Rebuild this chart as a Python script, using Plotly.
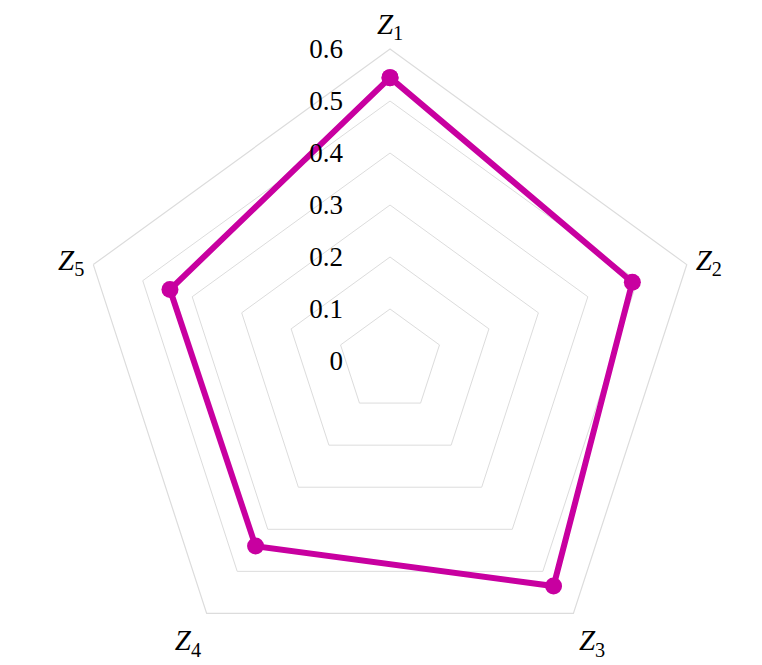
import plotly.graph_objects as go

categories = ["<i>Z</i><sub>1</sub>", "<i>Z</i><sub>2</sub>", "<i>Z</i><sub>3</sub>",
              "<i>Z</i><sub>4</sub>", "<i>Z</i><sub>5</sub>"]
values = [0.545, 0.49, 0.535, 0.44, 0.445]
radial_ticks = [0, 0.1, 0.2, 0.3, 0.4, 0.5, 0.6]
radial_labels = ["0", "0.1", "0.2", "0.3", "0.4", "0.5", "0.6"]

line_color = "#c800a0"
grid_color = "#dcdcdc"
font_family = "Liberation Serif"

fig = go.Figure()
fig.add_trace(go.Scatterpolar(
    r=values + values[:1],
    theta=categories + categories[:1],
    mode="lines+markers",
    line=dict(color=line_color, width=6),
    marker=dict(color=line_color, size=17),
    showlegend=False,
))

fig.update_layout(
    width=762, height=665,
    margin=dict(l=0, r=0, t=0, b=0),
    paper_bgcolor="white",
    font=dict(family=font_family, color="black"),
    polar=dict(
        domain=dict(x=[0.0919, 0.9108], y=[0, 0.9383]),
        bgcolor="white",
        gridshape="linear",
        radialaxis=dict(
            range=[0, 0.6],
            tickvals=radial_ticks,
            ticktext=radial_labels,
            angle=90,
            side="counterclockwise",
            showline=False,
            showgrid=True,
            gridcolor=grid_color,
            gridwidth=1.2,
            ticks="outside",
            ticklen=37,
            tickcolor="rgba(0,0,0,0)",
            tickfont=dict(family=font_family, size=27, color="black"),
            tickangle=90,
        ),
        angularaxis=dict(
            rotation=90,
            direction="clockwise",
            showgrid=False,
            showline=True,
            linecolor=grid_color,
            linewidth=1.2,
            ticks="outside",
            ticklen=3,
            tickcolor="rgba(0,0,0,0)",
            tickfont=dict(family=font_family, size=29, color="black"),
        ),
    ),
)

fig.write_html("out.html")
